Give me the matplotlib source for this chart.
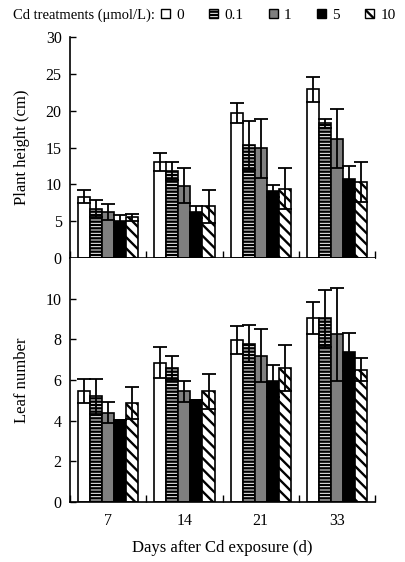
import matplotlib
matplotlib.use("Agg")
import matplotlib.pyplot as plt
from matplotlib.patches import Patch
import numpy as np

plt.rcParams['font.family'] = ['Liberation Serif', 'DejaVu Serif']
plt.rcParams['hatch.linewidth'] = 1.7

days = ["7", "14", "21", "33"]
treatments = ["0", "0.1", "1", "5", "10"]

height = {
    "0":   [8.3, 13.0, 19.7, 22.9],
    "0.1": [6.7, 11.8, 15.3, 18.3],
    "1":   [6.2, 9.8, 14.9, 16.2],
    "5":   [5.0, 6.2, 9.1, 10.7],
    "10":  [5.5, 7.0, 9.4, 10.3],
}
height_err = {
    "0":   [0.9, 1.2, 1.4, 1.7],
    "0.1": [1.2, 1.2, 3.3, 0.6],
    "1":   [1.1, 2.4, 4.0, 4.0],
    "5":   [0.8, 0.8, 0.8, 1.8],
    "10":  [0.5, 2.2, 2.8, 2.7],
}
leaf = {
    "0":   [5.45, 6.85, 7.97, 9.04],
    "0.1": [5.2, 6.6, 7.78, 9.04],
    "1":   [4.4, 5.44, 7.19, 8.24],
    "5":   [4.05, 5.0, 5.96, 7.37],
    "10":  [4.87, 5.44, 6.58, 6.5],
}
leaf_err = {
    "0":   [0.6, 0.75, 0.7, 0.8],
    "0.1": [0.85, 0.6, 0.9, 1.4],
    "1":   [0.5, 0.5, 1.3, 2.3],
    "5":   [0.0, 0.0, 0.8, 0.95],
    "10":  [0.77, 0.86, 1.12, 0.57],
}

styles = {
    "0":   dict(color="white", hatch=None),
    "0.1": dict(color="white", hatch="-----"),
    "1":   dict(color="#7f7f7f", hatch=None),
    "5":   dict(color="black", hatch=None),
    "10":  dict(color="white", hatch="\\\\\\"),
}

fig = plt.figure(figsize=(4.05, 5.62), dpi=100)
ax1 = fig.add_axes([0.173, 0.541, 0.753, 0.393])
ax2 = fig.add_axes([0.173, 0.1068, 0.753, 0.4342])

width = 0.158
x = np.arange(len(days))

def draw(ax, data, err):
    for i, t in enumerate(treatments):
        pos = x + (i - 2) * width
        st = styles[t]
        ax.bar(pos, data[t], width, color=st["color"], hatch=st["hatch"],
               edgecolor="black", linewidth=1.2, zorder=2)
        ax.errorbar(pos, data[t], yerr=err[t], fmt="none", ecolor="black",
                    elinewidth=1.3, capsize=5, capthick=1.3, zorder=3)
    ax.set_xlim(-0.5, len(days) - 0.5)
    for s in ["top", "right"]:
        ax.spines[s].set_visible(False)
    ax.spines["left"].set_linewidth(1.2)
    ax.spines["bottom"].set_linewidth(1.2)
    ax.tick_params(axis="y", direction="in", length=4, width=1, labelsize=11.5, pad=6)
    ax.set_xticks(x)
    ax.set_xticks(np.arange(-0.5, len(days), 1.0), minor=True)
    ax.tick_params(axis="x", which="major", length=0, labelsize=11.5, pad=8)
    ax.tick_params(axis="x", which="minor", direction="in", length=5, width=1)

draw(ax1, height, height_err)
ax1.set_ylim(0, 30)
ax1.set_yticks(range(0, 31, 5))
ax1.set_xticklabels([])
ax1.set_ylabel("Plant height (cm)", fontsize=12, labelpad=11)

draw(ax2, leaf, leaf_err)
ax2.set_ylim(0, 12)
ax2.set_yticks(range(0, 11, 2))
ax2.set_xticklabels(days)
ax2.set_ylabel("Leaf number", fontsize=12, labelpad=11)
ax2.set_xlabel("Days after Cd exposure (d)", fontsize=12, labelpad=8)
fig.align_ylabels([ax1, ax2])

fig.text(0.032, 0.973, "Cd treatments (\u03bcmol/L):", fontsize=10.5, va="center", ha="left")
handles = [Patch(facecolor=styles[t]["color"], hatch=styles[t]["hatch"],
                 edgecolor="black", linewidth=1.0) for t in treatments]
fig.legend(handles, treatments, loc="center left", bbox_to_anchor=(0.398, 0.973),
           ncol=5, frameon=False, fontsize=11, handlelength=0.6, handleheight=0.6,
           handletextpad=0.4, columnspacing=1.65, borderpad=0, borderaxespad=0)

fig.savefig("out.png", dpi=100)
